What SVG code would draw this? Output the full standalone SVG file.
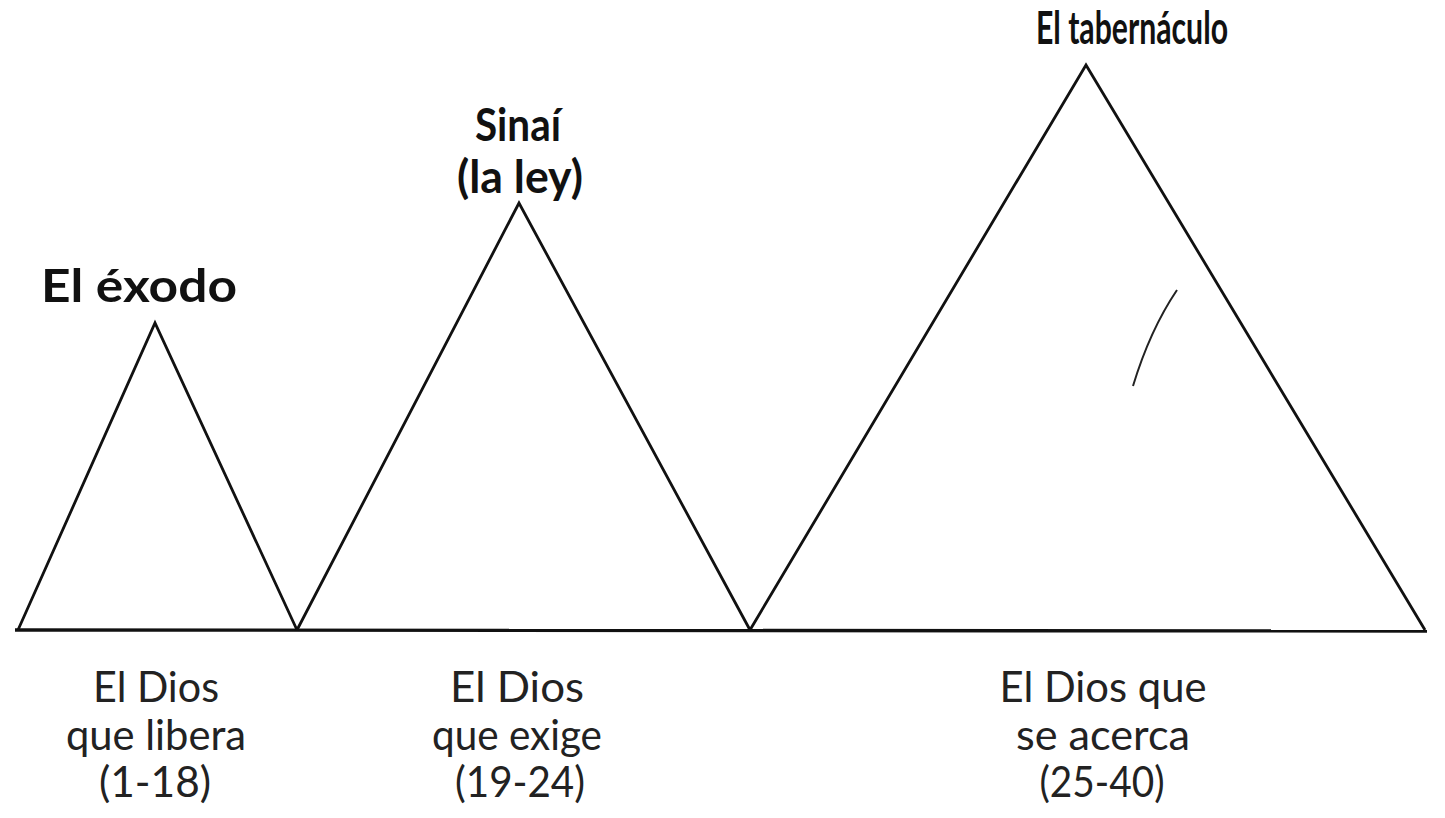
<svg xmlns="http://www.w3.org/2000/svg" width="1445" height="818" viewBox="0 0 1445 818">
<style>
.tri{fill:none;stroke:#111;stroke-width:2.8;stroke-linejoin:miter}
.base{stroke:#111;stroke-width:3.4;fill:none}
.title{font-family:Lato,"Liberation Sans",sans-serif;font-weight:bold;font-size:46px;fill:#111;text-anchor:middle}
.lab{font-family:Lato,"Liberation Sans",sans-serif;font-weight:normal;font-size:43px;fill:#222;text-anchor:middle}
</style>
<rect width="1445" height="818" fill="#fff"/>
<g id="baseline"><line class="base" x1="15" y1="630" x2="1427" y2="631"/></g>
<g id="exodo">
<polyline class="tri" points="18,630 155,323 297,630"/>
<text class="title" x="139" y="302" textLength="196" lengthAdjust="spacingAndGlyphs">El éxodo</text>
<text class="lab" x="156" y="702" textLength="126" lengthAdjust="spacingAndGlyphs">El Dios</text>
<text class="lab" x="156" y="750" textLength="180" lengthAdjust="spacingAndGlyphs">que libera</text>
<text class="lab" x="155" y="797" textLength="112" lengthAdjust="spacingAndGlyphs">(1-18)</text>
</g>
<g id="sinai">
<polyline class="tri" points="297,630 519,203 750,630"/>
<text class="title" x="518" y="141" textLength="86" lengthAdjust="spacingAndGlyphs">Sinaí</text>
<text class="title" x="520" y="193" textLength="126" lengthAdjust="spacingAndGlyphs">(la ley)</text>
<text class="lab" x="517" y="702" textLength="134" lengthAdjust="spacingAndGlyphs">El Dios</text>
<text class="lab" x="517" y="750" textLength="170" lengthAdjust="spacingAndGlyphs">que exige</text>
<text class="lab" x="520" y="797" textLength="130" lengthAdjust="spacingAndGlyphs">(19-24)</text>
</g>
<g id="tabernaculo">
<polyline class="tri" points="750,630 1086,65 1425,630"/>
<text class="title" x="1132" y="44" textLength="192" lengthAdjust="spacingAndGlyphs">El tabernáculo</text>
<text class="lab" x="1103" y="702" textLength="207" lengthAdjust="spacingAndGlyphs">El Dios que</text>
<text class="lab" x="1103" y="750" textLength="174" lengthAdjust="spacingAndGlyphs">se acerca</text>
<text class="lab" x="1102" y="797" textLength="125" lengthAdjust="spacingAndGlyphs">(25-40)</text>
</g>
<g id="connectors"><path d="M1177,290 Q1150,330 1133,386" fill="none" stroke="#222" stroke-width="2"/></g>
</svg>
